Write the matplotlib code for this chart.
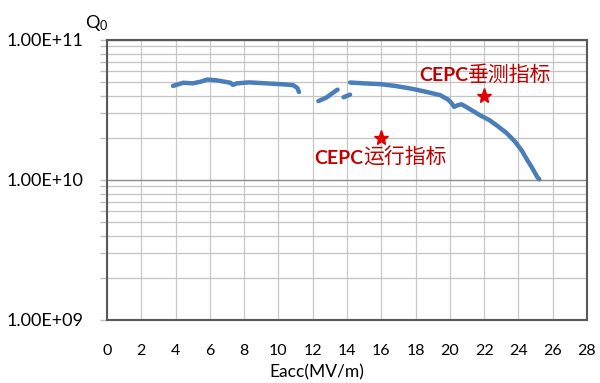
import matplotlib
matplotlib.use("Agg")
import matplotlib.pyplot as plt
import numpy as np
from matplotlib.ticker import LogLocator, NullFormatter, FixedLocator

plt.rcParams['font.family'] = ['Lato', 'DejaVu Sans']
plt.rcParams['mathtext.fontset'] = 'custom'
plt.rcParams['mathtext.rm'] = 'Lato'
plt.rcParams['mathtext.default'] = 'regular'

# ---- data (Eacc in MV/m, Q0) ----
seg1_x = [3.85, 4.45, 5.0, 5.5, 5.85, 6.4, 7.0, 7.2, 7.35, 7.57, 8.3, 9.3, 10.3, 10.85, 11.1, 11.2]
seg1_q = [4.70e10, 4.95e10, 4.90e10, 5.05e10, 5.22e10, 5.15e10, 5.00e10, 4.95e10, 4.78e10, 4.90e10,
          4.98e10, 4.90e10, 4.82e10, 4.76e10, 4.55e10, 4.25e10]
seg2_x = [12.33, 12.8, 13.3, 13.45]
seg2_q = [3.66e10, 3.88e10, 4.30e10, 4.42e10]
seg3_x = [13.8, 14.18]
seg3_q = [3.90e10, 4.07e10]
seg4_x = [14.18, 15.0, 15.93, 16.8, 17.68, 18.3, 18.84, 19.43, 19.9, 20.11, 20.25, 20.45, 20.69,
          21.0, 21.76, 22.3, 22.8, 23.3, 23.8, 24.2, 24.5, 24.8, 25.1, 25.22]
seg4_q = [4.97e10, 4.90e10, 4.84e10, 4.70e10, 4.51e10, 4.35e10, 4.20e10, 4.04e10, 3.75e10, 3.53e10,
          3.33e10, 3.42e10, 3.47e10, 3.30e10, 2.90e10, 2.68e10, 2.42e10, 2.17e10, 1.88e10, 1.62e10,
          1.40e10, 1.22e10, 1.05e10, 1.01e10]

targets_x = [16, 22]
targets_q = [2.0e10, 4.0e10]
target_names = ['运行指标', '垂测指标']
target_label_x = [12.1, 18.2]
target_label_q = [1.31e10, 5.1e10]

x_ticks = list(range(0, 29, 2))
y_ticks = [1e9, 1e10, 1e11]
y_tick_labels = ['1.00E+09', '1.00E+10', '1.00E+11']

line_color = '#4A7EBB'
fig = plt.figure(figsize=(6.0, 3.83), dpi=100)
ax = fig.add_axes([107/600, 1-320/383, 480/600, 280/383])

for sx, sq in [(seg1_x, seg1_q), (seg2_x, seg2_q), (seg3_x, seg3_q), (seg4_x, seg4_q)]:
    ax.plot(sx, sq, color=line_color, lw=3.2, solid_capstyle='round', solid_joinstyle='round', zorder=3)

ax.plot(targets_x, targets_q, linestyle='none', marker='*', color='#E00000', markersize=11, zorder=4)

ax.set_yscale('log')
ax.set_xlim(0, 28)
ax.set_ylim(1e9, 1e11)
ax.set_xticks(x_ticks)
ax.set_xticklabels([str(v) for v in x_ticks], fontsize=11.5)
ax.yaxis.set_major_locator(FixedLocator(y_ticks))
ax.set_yticklabels(y_tick_labels, fontsize=13)
ax.yaxis.set_minor_locator(LogLocator(base=10, subs=np.arange(2, 10)))
ax.yaxis.set_minor_formatter(NullFormatter())

ax.grid(True, which='major', axis='y', color='#8c8c8c', lw=1.0)
ax.grid(True, which='minor', axis='y', color='#c4c4c4', lw=0.9)
ax.grid(True, which='major', axis='x', color='#c8c8c8', lw=0.9)
ax.set_axisbelow(True)

for s in ax.spines.values():
    s.set_color('#595959')
    s.set_linewidth(1.5)

ax.tick_params(axis='x', length=0, pad=17, colors='black')
ax.tick_params(axis='y', which='major', length=5, width=1, color='#bfbfbf', pad=12)
ax.tick_params(axis='y', which='minor', length=5, width=1, color='#bfbfbf')

fig.text(317/600, 1-372/383, 'Eacc(MV/m)', ha='center', va='center', fontsize=12.5)
ax.text(-0.021, 1.06, 'Q$_0$', transform=ax.transAxes, ha='center', va='center', fontsize=13)

red = '#C00000'
fig.canvas.draw()
for lx, lq, name in zip(target_label_x, target_label_q, target_names):
    t1 = ax.text(lx, lq, 'CEPC', ha='left', va='baseline', fontsize=14, fontweight='bold', color=red)
    fig.canvas.draw()
    w = t1.get_window_extent().width
    ax.annotate(name, xy=(lx, lq), xytext=(w * 72 / 100, 0), textcoords='offset points',
                ha='left', va='baseline', fontsize=15, color=red, fontweight='medium',
                family=['Noto Sans CJK SC', 'DejaVu Sans'])

fig.savefig('out.png', dpi=100)
